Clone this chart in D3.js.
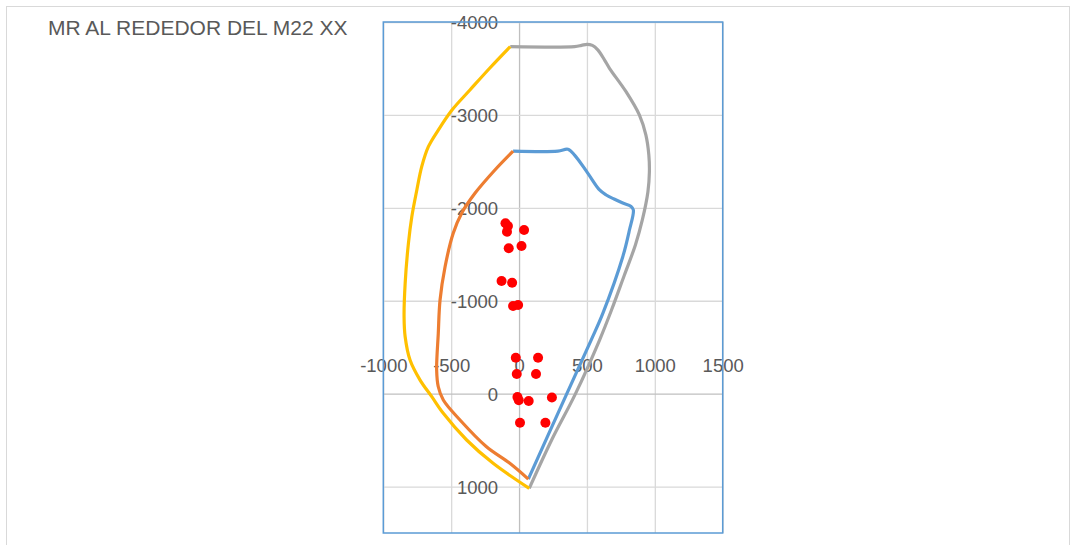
<!DOCTYPE html>
<html>
<head>
<meta charset="utf-8">
<script src="https://cdn.jsdelivr.net/npm/d3@7"></script>
<style>
  body { margin: 0; background: #fff; }
  svg { display: block; }
  text { font-family: "Liberation Sans", Arial, sans-serif; fill: #595959; }
</style>
</head>
<body>
<svg id="chart" width="1076" height="545"></svg>
<script>
// Interaction diagram: moment M (x) vs axial load P (y, reversed)
const chartTitle = "MR AL REDEDOR DEL M22 XX";
const xTicks = [-1000, -500, 0, 500, 1000, 1500];
const yTicks = [-4000, -3000, -2000, -1000, 0, 1000];

// Outer envelope, positive-moment side (grey)
const outerRightM = [-65, 409, 460, 500, 540, 580, 630, 666, 788, 886, 934, 956, 960, 949, 908, 857, 776, 681, 593, 416, 240, 75];
const outerRightP = [-3735, -3735, -3748, -3760, -3748, -3700, -3590, -3502, -3250, -3000, -2784, -2568, -2385, -2170, -1869, -1600, -1277, -900, -577, 0, 499, 1020];

// Outer envelope, negative-moment side (yellow)
const outerLeftM = [-65, -215, -362, -494, -595, -668, -717, -753, -790, -815, -839, -847, -839, -803, -729, -643, -558, -386, -191, 75];
const outerLeftP = [-3735, -3505, -3268, -3053, -2837, -2658, -2443, -2192, -1904, -1618, -1187, -828, -613, -362, -146, 33, 212, 499, 750, 1020];

// Inner envelope, positive-moment side (blue)
const innerRightM = [-44, 286, 360, 409, 507, 593, 642, 700, 764, 825, 842, 813, 764, 617, 531, 352, 68];
const innerRightP = [-2610, -2610, -2630, -2568, -2371, -2192, -2138, -2095, -2052, -2015, -1976, -1761, -1474, -864, -577, 0, 920];

// Inner envelope, negative-moment side (orange)
const innerLeftM = [-44, -178, -325, -423, -485, -545, -582, -595, -607, -595, -558, -435, -240, -68, 68];
const innerLeftP = [-2610, -2407, -2156, -1941, -1726, -1366, -1008, -649, -254, -74, 69, 284, 572, 750, 920];

// Demand points (red)
const demandM = [-100, -82, -89, 37, -76, 18, -129, -51, -44, -7, -24, 140, -17, 125, -12, -2, 71, 242, 7, 194];
const demandP = [-1833, -1804, -1743, -1761, -1564, -1589, -1212, -1194, -943, -954, -386, -386, -211, -211, 37, 71, 79, 42, 314, 314];

const svg = d3.select("#chart");
const plot = { left: 383.3, right: 722.7, top: 22, bottom: 533 };
const fmt = d => String(d);   // plain hyphen-minus, as in the spreadsheet labels

// chart area frame
svg.append("rect")
  .attr("x", 6.5).attr("y", 6.5)
  .attr("width", 1063).attr("height", 600)
  .attr("fill", "#fff").attr("stroke", "#D9D9D9").attr("stroke-width", 1);

svg.append("text")
  .attr("x", 48).attr("y", 35)
  .attr("font-size", 21)
  .text(chartTitle);

const x = d3.scaleLinear().domain([-1000, 1500]).range([plot.left, plot.right]);
const y = d3.scaleLinear().domain([-4000, 1500]).range([plot.top, plot.bottom]);

// gridlines
const grid = svg.append("g");
grid.append("g")
  .attr("transform", `translate(0,${plot.top})`)
  .call(d3.axisBottom(x).tickValues(xTicks).tickSize(plot.bottom - plot.top).tickFormat(""))
  .call(g => g.select(".domain").remove())
  .call(g => g.selectAll("line").attr("stroke", d => d === 0 ? "#BFBFBF" : "#D9D9D9").attr("stroke-width", 1.3));
grid.append("g")
  .attr("transform", `translate(${plot.left},0)`)
  .call(d3.axisRight(y).tickValues(yTicks).tickSize(plot.right - plot.left).tickFormat(""))
  .call(g => g.select(".domain").remove())
  .call(g => g.selectAll("line").attr("stroke", d => d === 0 ? "#BFBFBF" : "#D9D9D9").attr("stroke-width", 1.3));

// tick labels, placed against the axes that cross at 0
svg.append("g")
  .attr("transform", `translate(0,${y(0)})`)
  .call(d3.axisTop(x).tickValues(xTicks).tickSize(0).tickPadding(21.5).tickFormat(fmt))
  .call(g => g.select(".domain").remove())
  .call(g => g.selectAll("text").attr("font-size", 18.5).attr("fill", "#595959")
    .attr("font-family", "Liberation Sans, Arial, sans-serif"));
svg.append("g")
  .attr("transform", `translate(${x(0)},0)`)
  .call(d3.axisLeft(y).tickValues(yTicks).tickSize(0).tickPadding(21).tickFormat(fmt))
  .call(g => g.select(".domain").remove())
  .call(g => g.selectAll("text").attr("font-size", 18.5).attr("fill", "#595959").attr("dy", "0.35em")
    .attr("font-family", "Liberation Sans, Arial, sans-serif"));

// plot area border
svg.append("rect")
  .attr("x", plot.left).attr("y", plot.top)
  .attr("width", plot.right - plot.left).attr("height", plot.bottom - plot.top)
  .attr("fill", "none").attr("stroke", "#5B9BD5").attr("stroke-width", 1.5);

const line = d3.line()
  .x(d => x(d[0])).y(d => y(d[1]))
  .curve(d3.curveCatmullRom.alpha(0.5));

const series = [
  { m: outerRightM, p: outerRightP, color: "#A5A5A5" },
  { m: outerLeftM, p: outerLeftP, color: "#FFC000" },
  { m: innerRightM, p: innerRightP, color: "#5B9BD5" },
  { m: innerLeftM, p: innerLeftP, color: "#ED7D31" }
];

svg.append("g").selectAll("path")
  .data(series)
  .join("path")
  .attr("d", s => line(d3.zip(s.m, s.p)))
  .attr("fill", "none")
  .attr("stroke", s => s.color)
  .attr("stroke-width", 3.2)
  .attr("stroke-linejoin", "round");

svg.append("g").selectAll("circle")
  .data(d3.zip(demandM, demandP))
  .join("circle")
  .attr("cx", d => x(d[0]))
  .attr("cy", d => y(d[1]))
  .attr("r", 5)
  .attr("fill", "#FF0000");
</script>
</body>
</html>
